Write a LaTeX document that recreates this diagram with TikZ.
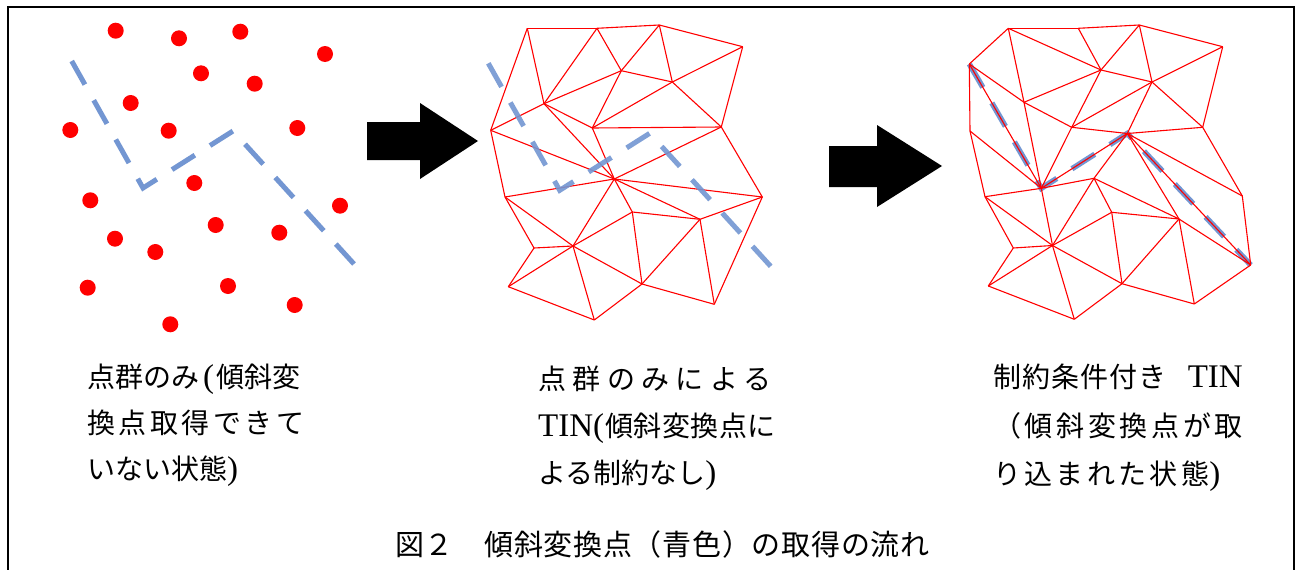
\documentclass[tikz,border=0pt]{standalone}
\usepackage{fontspec}
\newfontfamily\cjkfont{Noto Sans CJK JP}
\newfontfamily\latfont{Liberation Serif}
\newcommand\jp[1]{{\cjkfont #1}}
\newcommand\jpls[2]{{\cjkfont\addfontfeature{LetterSpace=#1}#2}}
\newcommand\lat[1]{{\latfont\fontsize{33}{34}\selectfont #1}}
\definecolor{tinred}{RGB}{255,0,0}
\definecolor{slopeblue}{RGB}{115,150,210}
\begin{document}
\begin{tikzpicture}[x=1pt,y=-1pt,
  dot/.style={circle,fill=tinred,inner sep=0pt,minimum size=16pt},
  tin/.style={draw=tinred,line width=1.1pt,line join=round},
  slope/.style={draw=slopeblue,line width=5pt,dash pattern=on 27pt off 18pt},
  blockarrow/.style={fill=black},
  borderline/.style={draw=black,line width=2pt},
  lbl/.style={anchor=base west,inner sep=0pt,font=\fontsize{28}{34}\selectfont},
  captext/.style={anchor=base west,inner sep=0pt,font=\fontsize{29}{34}\selectfont}]
\useasboundingbox (0,0) rectangle (1304,570);
\fill[white] (0,0) rectangle (1304,570);
% frame
\draw[borderline] (8,590) -- (8,7) -- (1294,7) -- (1294,590);

% ---------- panel 1: points ----------
\foreach \n/\px/\py in {1/115.7/30.7, 2/179/38.3, 3/240.3/31.7, 4/325/54, 5/201/73.3,
  6/254.7/83.7, 7/130.7/103, 8/70.3/130, 9/168.7/130.7, 10/297.3/128, 11/194.3/183,
  12/90.3/200.3, 13/340/205.7, 14/215.7/225, 15/115/238.7, 16/155.3/252,
  17/279.3/232.7, 18/87.7/287.7, 19/228/286, 20/294.7/305, 21/170.3/324.3}
  \node[dot] (pt\n) at (\px,\py) {};
\coordinate (s1a) at (71.7,61);
\coordinate (s1b) at (143,188);
\coordinate (s1c) at (233,131);
\coordinate (s1d) at (354,264);
\draw[slope] (s1a) -- (s1b) -- (s1c) -- (s1d);

% arrow 1
\fill[blockarrow] (367,122) -- (420,122) -- (420,103) -- (478,141) -- (420,179) -- (420,160) -- (367,160) -- cycle;

% ---------- panel 2: TIN ----------
\foreach \n/\px/\py in {A/527.3/28.3, B/597/28.3, C/659.3/25, D/742.7/46.7, E/621.3/70.7,
  F/672.3/82, G/544/103.7, H/490.7/130.3, I/592.3/128, J/721.3/127, K/614.3/179,
  L/505/197, M/762.3/197, N/632.3/212, O/700/219.3, P/534/248, Q/573/246,
  R/508.3/286.7, S/642/284, T/594.3/320, U/714.3/304.3}
  \coordinate (b\n) at (\px,\py);
\foreach \u/\v in {A/B, B/C, C/D, A/G, A/H, B/G, B/E, C/E, C/F, D/F, D/J, E/F, E/G,
  E/I, F/I, F/J, I/J, G/H, G/I, G/K, H/K, H/L, I/K, J/K, J/M, K/L, K/M, K/O, K/N,
  K/Q, L/P, L/Q, M/O, M/U, N/O, N/Q, N/S, O/S, O/U, P/Q, P/R, Q/R, Q/S, Q/T,
  R/T, S/T, S/U}
  \draw[tin] (b\u) -- (b\v);
\coordinate (s2a) at (488.3,63.3);
\coordinate (s2b) at (559.7,190.3);
\coordinate (s2c) at (649.7,133.3);
\coordinate (s2d) at (770.7,266.3);
\draw[slope,opacity=0.9] (s2a) -- (s2b) -- (s2c) -- (s2d);

% arrow 2
\fill[blockarrow] (829,146) -- (877,146) -- (877,125) -- (942,166) -- (877,207) -- (877,187) -- (829,187) -- cycle;

% ---------- panel 3: constrained TIN ----------
\foreach \n/\px/\py in {a/1008.3/28.3, b/1078.3/28.3, c/1139.3/25, d/1222.7/46.7,
  e/1101/70, f/1152/82, g/1024/102.3, h/969.3/64, hh/970/131, i/1071.7/127.3,
  j/1202.7/127.3, k/1127.3/133.5, l/1041.3/188.3, m/1094/178.3, n/985/196.7,
  o/1242.3/196, p/1111.7/212.3, q/1179/219, r/1013.3/248, s/1052.5/245.5,
  t/1250.7/265, u/988.3/286, v/1122/283.7, w/1074.3/319.3, x/1194.3/304}
  \coordinate (c\n) at (\px,\py);
\draw[slope,line width=5.5pt] (ch) -- (cl) -- (ck) -- (ct);
\foreach \u/\v in {a/b, b/c, c/d, a/h, a/g, a/e, b/e, c/e, c/f, d/f, d/j, e/f, e/g,
  e/i, f/i, f/k, f/j, g/h, g/i, g/l, h/hh, hh/l, hh/n, i/l, i/k, k/j, k/l, k/m,
  l/m, m/p, m/q, k/q, p/q, p/s, m/s, l/s, l/n, n/s, n/r, r/s, r/u, s/u, s/w,
  u/w, s/v, p/v, q/v, v/w, v/x, q/x, x/t, q/t, t/o, o/k, o/j, h/l, k/t}
  \draw[tin] (c\u) -- (c\v);

% ---------- labels ----------
\node[lbl] (l1a) at (87,387) {\jp{点群のみ}\hspace{4pt}\lat{(}\hspace{2pt}\jp{傾斜変}};
\node[lbl] (l1b) at (87,433) {\jpls{12.5}{換点取得できて}};
\node[lbl] (l1c) at (87,479) {\jp{いない状態}\lat{)}};

\node[lbl] (l2a) at (538,389) {\jpls{23}{点群のみによる}};
\node[lbl] (l2b) at (538,436) {\lat{TIN(}\hspace{1pt}\jpls{2}{傾斜変換点に}};
\node[lbl] (l2c) at (538,483) {\jp{よる制約なし}\lat{)}};

\node[lbl] (l3a) at (993,387) {\jpls{4}{制約条件付き}\hspace{21pt}\lat{TIN}};
\node[lbl] (l3b) at (993,436) {\jpls{13}{（傾斜変換点が取}};
\node[lbl] (l3c) at (993,484) {\jpls{12}{り込まれた状態}\lat{)}};

\node[captext] (caption) at (395,555) {\jpls{2.5}{図２　傾斜変換点（青色）の取得の流れ}};
\end{tikzpicture}
\end{document}
